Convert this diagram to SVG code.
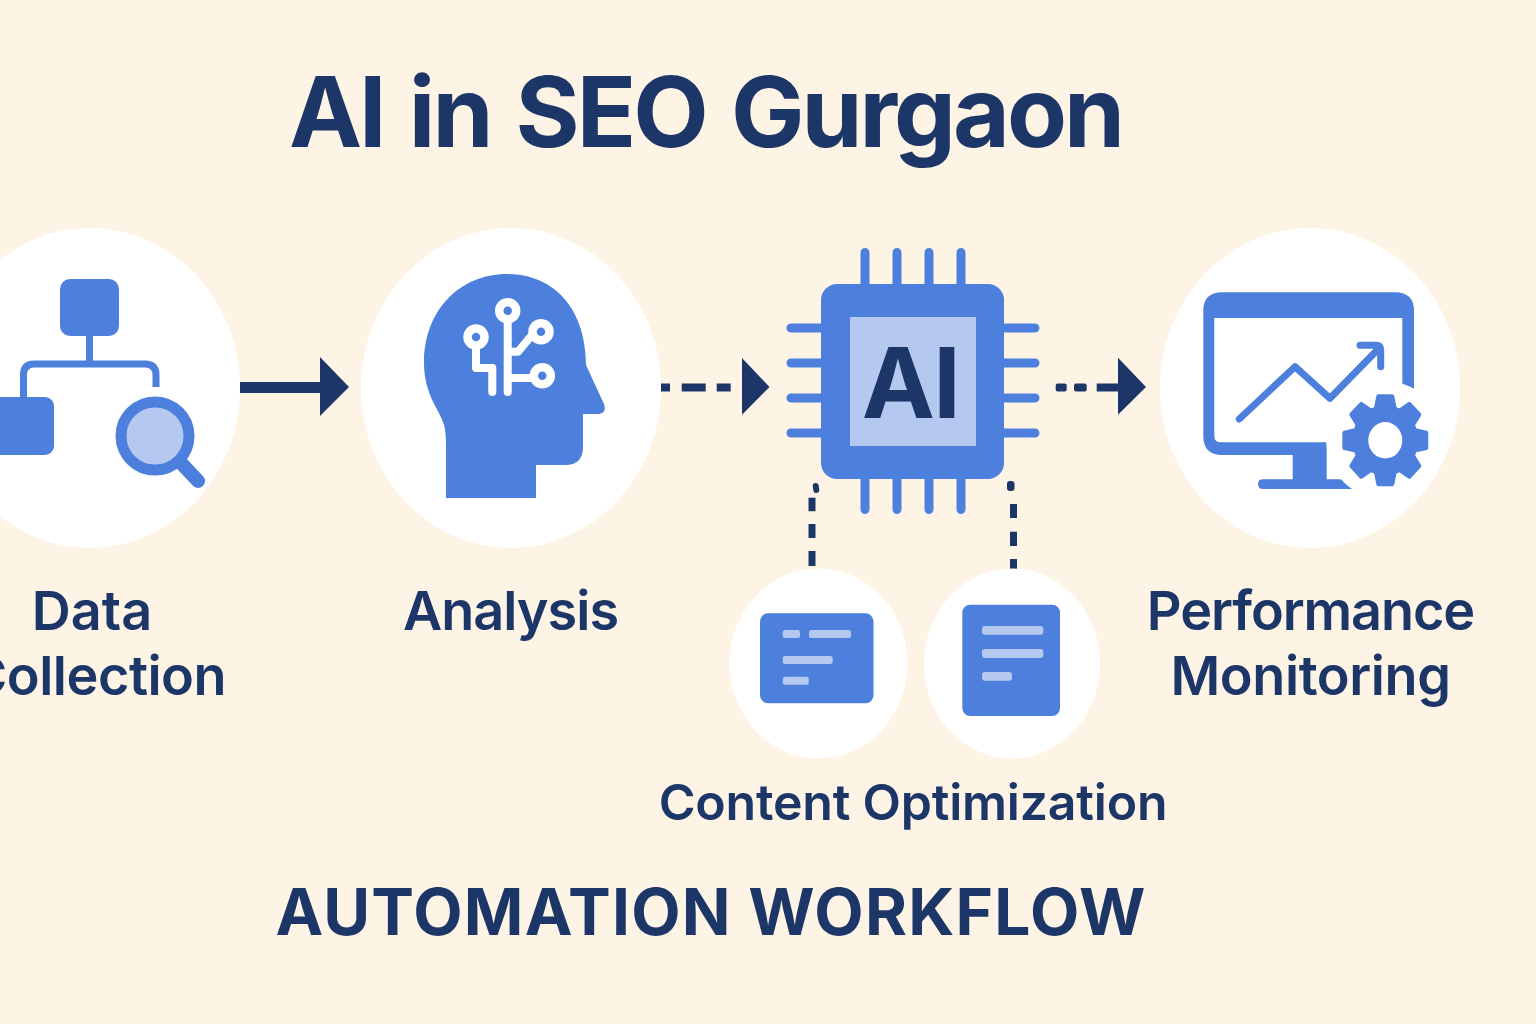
<svg xmlns="http://www.w3.org/2000/svg" width="1536" height="1024" viewBox="0 0 1536 1024">
<style>
.t{font-family:Inter,"Noto Sans","Liberation Sans",sans-serif;font-weight:600;fill:#1d3668}
.h{font-weight:700}
.b{fill:#4d80dd}
.l{fill:#b5c9f0}
.w{fill:#fff}
.s{fill:none;stroke:#4d80dd;stroke-width:7}
.p{stroke:#4d80dd;stroke-width:9;stroke-linecap:round;fill:none}
.n{fill:#1d3668}
.k{fill:none;stroke:#fff;stroke-width:8;stroke-linecap:round;stroke-linejoin:round}
</style>
<rect width="1536" height="1024" fill="#fef4e6"/>
<text id="title" class="t h" x="705.500" y="147" font-size="98" text-anchor="middle" letter-spacing="-3" word-spacing="5">AI in SEO Gurgaon</text>
<g id="connectors">
<rect class="n" x="240" y="382" width="81" height="11"/>
<polygon class="n" points="320,357 349,387 320,416"/>
<g class="n">
<rect x="661" y="383.500" width="9" height="8"/>
<rect x="681.700" y="383.500" width="24" height="8"/>
<rect x="716.700" y="383.500" width="14" height="8"/>
<rect x="1055.700" y="383.500" width="11" height="8" rx="2"/>
<rect x="1074" y="383.500" width="12.700" height="8" rx="2"/>
<rect x="1096.700" y="383.500" width="22" height="8"/>
<rect x="808.500" y="497.700" width="7" height="13.500"/>
<rect x="808.500" y="524" width="7" height="14"/>
<rect x="808.500" y="551" width="7" height="15"/>
<rect x="1010" y="504" width="7" height="14"/>
<rect x="1010" y="531.700" width="7" height="14.300"/>
<rect x="1010" y="559" width="7" height="10"/>
<rect x="813" y="483" width="6" height="10" rx="3" transform="rotate(-8 816 488)"/>
<rect x="1007" y="481" width="7.500" height="10" rx="3"/>
</g>
<polygon class="n" points="742,358 769.500,387 742,414.700"/>
<polygon class="n" points="1118,357.700 1146,387 1118,414.700"/>
</g>
<g id="data-collection">
<ellipse class="w" cx="90" cy="388" rx="150" ry="160"/>
<rect class="b" x="60" y="279" width="59" height="57" rx="10"/>
<rect class="b" x="-10" y="397" width="64" height="58" rx="9"/>
<path class="s" d="M89.500 336V364M23.500 397V375Q23.500 364 34 364H145Q156 364 156 375V387"/>
<circle cx="155" cy="436" r="34" fill="#b5c9f0" stroke="#4d80dd" stroke-width="11"/>
<path d="M182 464L198 481" stroke="#4d80dd" stroke-width="14" stroke-linecap="round"/>
<text class="t" x="92" y="630" font-size="54" text-anchor="middle">Data</text>
<text class="t" x="226" y="695" font-size="54" text-anchor="end" letter-spacing="-0.500">Collection</text>
</g>
<g id="analysis">
<ellipse class="w" cx="511" cy="388" rx="150" ry="160"/>
<path class="b" d="M446 498H536V465H565Q583 465 583 447V414H599Q607 413 604 404L586 365C586 310 555 274 507 274C460 274 424 310 424 363C424 395 440 410 444 425Q446 432 446 445Z"/>
<path class="k" d="M507.700 320V392M511 351.700H518L532 335M511 378H532M476 347V368H492.300V392"/>
<g fill="#4d80dd" stroke="#fff" stroke-width="8.500">
<circle cx="507.700" cy="310.700" r="8.500"/>
<circle cx="541" cy="331.700" r="8.500"/>
<circle cx="542.300" cy="375.700" r="8.500"/>
<circle cx="476" cy="337" r="8.500"/>
</g>
<text class="t" x="510.500" y="630" font-size="54" text-anchor="middle" letter-spacing="-1">Analysis</text>
</g>
<g id="ai-chip">
<path class="p" d="M865 252.500V284M897 252.500V284M929 252.500V284M961 252.500V284M865 479V509.500M897 479V509.500M929 479V509.500M961 479V509.500M791 328H821M791 363H821M791 398H821M791 433H821M1004 328H1035M1004 363H1035M1004 398H1035M1004 433H1035"/>
<rect class="b" x="821" y="284" width="183" height="195" rx="16"/>
<rect class="l" x="850" y="317" width="126" height="129"/>
<text class="t h" x="910.500" y="418" font-size="98" text-anchor="middle" letter-spacing="-1.500">AI</text>
</g>
<g id="performance-monitoring">
<ellipse class="w" cx="1310" cy="388" rx="150" ry="160"/>
<path class="b" d="M1222 292.300H1395Q1414 292.300 1414 311V400H1402.300V318H1214.300V436Q1214.300 442.300 1221 442.300H1326.700V479.300H1345L1356 489H1263Q1258 489 1258 484Q1258 479.300 1263 479.300H1292.700V455H1222Q1203.300 455 1203.300 436V311Q1203.300 292.300 1222 292.300Z"/>
<path d="M1239.300 419L1295 366.700L1330 398.300L1380 347.300M1360 345.300H1376Q1380.700 345.300 1380.700 350V366.700" fill="none" stroke="#4d80dd" stroke-width="7" stroke-linecap="round" stroke-linejoin="round"/>
<circle class="w" cx="1385.300" cy="440.300" r="59"/>
<g transform="translate(1385.300 440.300) scale(1 1.070)">
<circle class="b" r="33"/>
<g class="b" stroke="#4d80dd" stroke-width="4" stroke-linejoin="round">
<polygon points="-10,-27 -7,-41 7,-41 10,-27"/>
<polygon points="-10,-27 -7,-41 7,-41 10,-27" transform="rotate(45)"/>
<polygon points="-10,-27 -7,-41 7,-41 10,-27" transform="rotate(90)"/>
<polygon points="-10,-27 -7,-41 7,-41 10,-27" transform="rotate(135)"/>
<polygon points="-10,-27 -7,-41 7,-41 10,-27" transform="rotate(180)"/>
<polygon points="-10,-27 -7,-41 7,-41 10,-27" transform="rotate(225)"/>
<polygon points="-10,-27 -7,-41 7,-41 10,-27" transform="rotate(270)"/>
<polygon points="-10,-27 -7,-41 7,-41 10,-27" transform="rotate(315)"/>
</g>
<circle class="w" r="17"/>
</g>
<text class="t" x="1310.500" y="630" font-size="54" text-anchor="middle" letter-spacing="-1.100">Performance</text>
<text class="t" x="1310.500" y="695" font-size="54" text-anchor="middle" letter-spacing="-0.400">Monitoring</text>
</g>
<g id="content-a">
<ellipse class="w" cx="818.500" cy="663.500" rx="89" ry="95"/>
<rect class="b" x="760" y="613.300" width="113.500" height="90" rx="8"/>
<rect class="l" x="782.700" y="630" width="17.300" height="8" rx="2.500"/>
<rect class="l" x="809" y="630" width="42" height="8" rx="2.500"/>
<rect class="l" x="782.700" y="656" width="50" height="8" rx="2.500"/>
<rect class="l" x="782.700" y="676.700" width="26" height="8" rx="2.500"/>
</g>
<g id="content-b">
<ellipse class="w" cx="1012" cy="663.500" rx="88" ry="95"/>
<rect class="b" x="962.300" y="604.700" width="97.700" height="111.300" rx="8"/>
<rect class="l" x="982" y="626" width="61.300" height="8.700" rx="3"/>
<rect class="l" x="982" y="649" width="61.300" height="9" rx="3"/>
<rect class="l" x="982" y="672" width="30" height="8.700" rx="3"/>
</g>
<text id="content-label" class="t" x="913" y="820" font-size="50" text-anchor="middle" letter-spacing="-0.200">Content Optimization</text>
<text id="footer" class="t h" x="711" y="935" font-size="64" text-anchor="middle" letter-spacing="1.250">AUTOMATION WORKFLOW</text>
</svg>
